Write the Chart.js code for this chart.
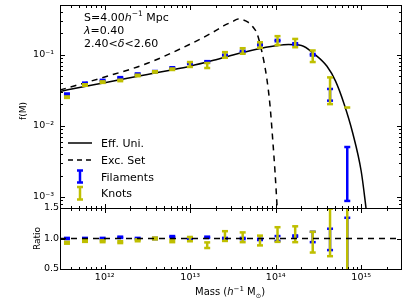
<!DOCTYPE html>
<html>
<head>
<meta charset="utf-8">
<script src="https://cdn.jsdelivr.net/npm/chart.js@4.4.1/dist/chart.umd.min.js"></script>
<style>
  html, body { margin: 0; padding: 0; background: #fff; }
  canvas { display: block; }
</style>
</head>
<body>
<canvas id="massChart" width="407" height="308"></canvas>
<script>
// mass of each measured bin (h^-1 Msun)
const binMass = [3.62e11, 5.88e11, 9.46e11, 1.52e12, 2.43e12, 3.87e12, 6.17e12, 9.93e12,
  1.58e13, 2.55e13, 4.11e13, 6.55e13, 1.05e14, 1.69e14, 2.71e14, 4.32e14, 6.87e14];

// f(M) in filaments and knots, with errors
const filF = [0.0278, 0.0396, 0.0433, 0.0473, 0.0533, 0.0577, 0.0651, 0.0757, 0.0794,
  0.0978, 0.111, 0.138, 0.158, 0.142, 0.100, 0.0278, 0.00296];
const filErr = [0.0007, 0.0009, 0.001, 0.0011, 0.0012, 0.0013, 0.0015, 0.0017, 0.0018,
  0.0022, 0.0025, 0.003, 0.0035, 0.0032, 0.0025, 0.0052, 0.00208];
const knotF = [0.0253, 0.0375, 0.0412, 0.0435, 0.0511, 0.0573, 0.0625, 0.0731, 0.0707,
  0.0998, 0.1133, 0.1373, 0.1596, 0.1471, 0.0968, 0.0341, 0.008];
const knotErr = [0.0006, 0.0009, 0.001, 0.001, 0.0012, 0.0013, 0.0015, 0.0058, 0.0057,
  0.0089, 0.0101, 0.0122, 0.0228, 0.0196, 0.0179, 0.0139, 0.0101];

// ratio to the effective universe prediction
const filRatio = [1.0, 1.0, 1.0, 1.02, 1.0, 1.0, 1.03, 1.0, 1.02, 1.0, 1.0, 0.985, 1.0, 1.04, 1.025, 0.985, 0.80];
const filRatioErr = [0.01, 0.01, 0.01, 0.01, 0.01, 0.01, 0.01, 0.01, 0.01, 0.01, 0.01, 0.01, 0.04, 0.01, 0.085, 0.175, 0.54];
const knotRatio = [0.93, 0.96, 0.955, 0.94, 0.97, 1.0, 0.96, 0.99, 0.89, 1.04, 1.02, 0.967, 1.065, 1.07, 0.94, 1.10, 1.0];
const knotRatioErr = [0.015, 0.015, 0.015, 0.015, 0.015, 0.015, 0.02, 0.035, 0.046, 0.08, 0.08, 0.08, 0.12, 0.13, 0.17, 0.39, 1.0];

// model curves
const effMass = [3.0e11, 5.62e11, 1.0e12, 1.78e12, 3.16e12, 5.62e12, 1.0e13, 1.78e13, 3.16e13, 5.62e13,
  1.0e14, 1.41e14, 2.0e14, 2.82e14, 3.98e14, 5.01e14, 6.31e14, 7.94e14, 1.0e15, 1.12e15, 1.2e15];
const effF = [0.0305, 0.0355, 0.0405, 0.0464, 0.0528, 0.0601, 0.069, 0.082, 0.0993, 0.1175,
  0.1334, 0.139, 0.135, 0.1026, 0.0687, 0.0425, 0.0203, 0.0080, 0.0023, 0.00082, 0.0004];
const excMass = [3.0e11, 1.0e12, 3.16e12, 1.0e13, 1.78e13, 2.51e13, 3.16e13, 3.63e13, 4.17e13, 4.79e13,
  5.43e13, 6.03e13, 6.82e13, 7.82e13, 8.57e13, 9.29e13, 9.82e13, 1.04e14, 1.08e14];
const excF = [0.0319, 0.0486, 0.0757, 0.141, 0.202, 0.258, 0.293, 0.318, 0.308, 0.284,
  0.245, 0.200, 0.1165, 0.0486, 0.0196, 0.00573, 0.00224, 0.000698, 0.0003];

const refMass = [3.0e11, 3.0e15];
const refRatio = [1, 1];

const BLUE = '#0000ff';
const YELLOW = '#bfbf00';
const FONT = '"DejaVu Sans"';

Chart.defaults.font.family = FONT;
Chart.defaults.color = '#000';

const SUP = {'0': '⁰', '1': '¹', '2': '²', '3': '³', '4': '⁴', '5': '⁵', '6': '⁶', '7': '⁷', '8': '⁸', '9': '⁹', '-': '⁻'};
function decadeLabel(v) {
    const e = Math.log10(v);
    if (Math.abs(e - Math.round(e)) > 1e-6) return '';
    return '10' + String(Math.round(e)).split('').map(c => SUP[c]).join('');
}

function pts(xs, ys) {
    return xs.map((x, i) => ({x: x, y: ys[i]}));
}

function logSteps(min, max) {
    const out = [];
    for (let e = Math.floor(Math.log10(min)); e <= Math.ceil(Math.log10(max)); e++) {
        for (let s = 1; s < 10; s++) {
            const v = s * Math.pow(10, e);
            if (v > min * 1.0001 && v < max * 0.9999) out.push([v, s === 1]);
        }
    }
    return out;
}

function errorBar(ctx, x, yHi, yLo, color) {
    ctx.fillStyle = color;
    ctx.strokeStyle = color;
    ctx.lineWidth = 2.5;
    if (yLo !== null) {
        ctx.beginPath();
        ctx.moveTo(x, yLo);
        ctx.lineTo(x, yHi);
        ctx.stroke();
        ctx.fillRect(x - 3, yLo - 1.25, 6, 2.5);
    }
    ctx.fillRect(x - 3, yHi - 1.25, 6, 2.5);
}

function richText(ctx, x, y, parts) {
    let cx = x;
    for (const [txt, size, style, dy] of parts) {
        ctx.font = (style || '') + ' ' + size + 'px ' + FONT;
        ctx.fillText(txt, cx, y + (dy || 0));
        cx += ctx.measureText(txt).width;
    }
}

function line(ctx, x1, y1, x2, y2) {
    ctx.beginPath();
    ctx.moveTo(x1, y1);
    ctx.lineTo(x2, y2);
    ctx.stroke();
}

const decor = {
    id: 'decor',
    afterDatasetDraw(chart, args) {
        const ds = chart.data.datasets[args.index];
        if (!ds.errors) return;
        const xs = chart.scales[args.meta.xAxisID];
        const ys = chart.scales[args.meta.yAxisID];
        const ctx = chart.ctx;
        ctx.save();
        ctx.beginPath();
        ctx.rect(xs.left, ys.top, xs.width, ys.height);
        ctx.clip();
        ds.data.forEach((p, i) => {
            const e = ds.errors[i];
            const px = xs.getPixelForValue(p.x);
            const hi = ys.getPixelForValue(p.y + e);
            const lo = (p.y - e > 0 || ys.type !== 'logarithmic') ? ys.getPixelForValue(p.y - e) : null;
            errorBar(ctx, px, hi, lo, ds.barColor);
        });
        ctx.restore();
    },
    afterDraw(chart) {
        const ctx = chart.ctx;
        const xs = chart.scales.x;
        ctx.save();
        ctx.strokeStyle = '#000';
        ctx.lineWidth = 1;
        const L = Math.round(xs.left) + 0.5, R = Math.round(xs.right) - 0.5;
        for (const id of ['y', 'ratio']) {
            const s = chart.scales[id];
            const T = Math.round(s.top) + 0.5, B = Math.round(s.bottom) + 0.5;
            ctx.strokeRect(L, T, R - L, B - T);
            logSteps(xs.min, xs.max).forEach(([v, major]) => {
                const px = Math.round(xs.getPixelForValue(v)) + 0.5;
                const len = major ? 4.5 : 2.5;
                line(ctx, px, T, px, T + len);
                line(ctx, px, B, px, B - len);
            });
            const steps = s.type === 'logarithmic' ? logSteps(s.min, s.max) : s.ticks.map(t => [t.value, true]);
            steps.forEach(([v, major]) => {
                const py = Math.round(s.getPixelForValue(v)) + 0.5;
                const len = major ? 4.5 : 2.5;
                line(ctx, L, py, L + len, py);
                line(ctx, R, py, R - len, py);
            });
        }

        // panel text
        ctx.fillStyle = '#000';
        ctx.textAlign = 'left';
        ctx.textBaseline = 'alphabetic';
        richText(ctx, 84, 20.5, [['S=4.00', 11], ['h', 11, 'italic'], ['−1', 7.5, '', -4.5], [' Mpc', 11]]);
        richText(ctx, 84, 34, [['λ', 11, 'italic'], ['=0.40', 11]]);
        richText(ctx, 84, 46.5, [['2.40<', 11], ['δ', 11, 'italic'], ['<2.60', 11]]);

        // legend
        ctx.strokeStyle = '#000';
        ctx.lineWidth = 1.5;
        line(ctx, 68, 143, 92, 143);
        ctx.setLineDash([5, 4]);
        line(ctx, 68, 160, 92, 160);
        ctx.setLineDash([]);
        errorBar(ctx, 80, 170.5, 182.5, BLUE);
        errorBar(ctx, 80, 187, 199.5, YELLOW);
        ctx.fillStyle = '#000';
        ctx.font = '11px ' + FONT;
        ctx.fillText('Eff. Uni.', 101, 147);
        ctx.fillText('Exc. Set', 101, 164);
        ctx.fillText('Filaments', 101, 180.5);
        ctx.fillText('Knots', 101, 196.5);

        // axis titles
        richText(ctx, 195, 295, [['Mass (', 10], ['h', 10, 'italic'], ['−1', 7, '', -4], [' M', 10], ['⊙', 6.5, '', 2.5], [')', 10]]);
        ctx.textAlign = 'center';
        ctx.textBaseline = 'middle';
        ctx.font = '9px ' + FONT;
        ctx.translate(23.5, 111);
        ctx.rotate(-Math.PI / 2);
        ctx.fillText('f(M)', 0, 0);
        ctx.setTransform(1, 0, 0, 1, 0, 0);
        ctx.translate(37.5, 238.5);
        ctx.rotate(-Math.PI / 2);
        ctx.fillText('Ratio', 0, 0);
        ctx.restore();
    }
};

function noPad(s) {
    s.paddingTop = 0;
    s.paddingBottom = 0;
    s.paddingLeft = 0;
    s.paddingRight = 0;
}

new Chart(document.getElementById('massChart'), {
    type: 'line',
    data: {
        datasets: [{
            label: 'Eff. Uni.',
            data: pts(effMass, effF),
            yAxisID: 'y',
            borderColor: '#000',
            borderWidth: 1.5,
            pointRadius: 0,
            cubicInterpolationMode: 'monotone',
            order: 6
        }, {
            label: 'Exc. Set',
            data: pts(excMass, excF),
            yAxisID: 'y',
            borderColor: '#000',
            borderWidth: 1.5,
            borderDash: [6, 5],
            pointRadius: 0,
            cubicInterpolationMode: 'monotone',
            order: 5
        }, {
            label: 'Filaments',
            data: pts(binMass, filF),
            errors: filErr,
            barColor: BLUE,
            yAxisID: 'y',
            showLine: false,
            pointRadius: 0,
            order: 4
        }, {
            label: 'Knots',
            data: pts(binMass, knotF),
            errors: knotErr,
            barColor: YELLOW,
            yAxisID: 'y',
            showLine: false,
            pointRadius: 0,
            order: 3
        }, {
            label: 'Filaments ratio',
            data: pts(binMass, filRatio),
            errors: filRatioErr,
            barColor: BLUE,
            yAxisID: 'ratio',
            showLine: false,
            pointRadius: 0,
            order: 4
        }, {
            label: 'Knots ratio',
            data: pts(binMass, knotRatio),
            errors: knotRatioErr,
            barColor: YELLOW,
            yAxisID: 'ratio',
            showLine: false,
            pointRadius: 0,
            order: 3
        }, {
            label: 'unity',
            data: pts(refMass, refRatio),
            yAxisID: 'ratio',
            borderColor: '#000',
            borderWidth: 1.5,
            borderDash: [6, 5],
            pointRadius: 0,
            order: 1
        }]
    },
    options: {
        responsive: false,
        animation: false,
        events: [],
        layout: {padding: {top: 5, right: 5, bottom: 0, left: 0}},
        plugins: {legend: {display: false}, tooltip: {enabled: false}},
        scales: {
            x: {
                type: 'logarithmic',
                min: 3e11,
                max: 3e15,
                position: 'bottom',
                grid: {display: false, drawTicks: false},
                border: {display: false},
                ticks: {autoSkip: false, maxRotation: 0, padding: 3, font: {size: 9.5}, callback: v => decadeLabel(v)},
                afterFit: s => { s.height = 39; noPad(s); }
            },
            ratio: {
                type: 'linear',
                position: 'left',
                stack: 'panels',
                stackWeight: 61,
                min: 0.5,
                max: 1.5,
                grid: {display: false, drawTicks: false},
                border: {display: false},
                ticks: {stepSize: 0.5, padding: 1, font: {size: 9.5}, callback: v => v.toFixed(1)},
                afterFit: s => { s.width = 60; noPad(s); }
            },
            y: {
                type: 'logarithmic',
                position: 'left',
                stack: 'panels',
                stackWeight: 203,
                min: 7e-4,
                max: 0.5,
                grid: {display: false, drawTicks: false},
                border: {display: false},
                ticks: {autoSkip: false, padding: 6, font: {size: 9.5}, callback: v => decadeLabel(v)},
                afterFit: s => { s.width = 60; noPad(s); }
            }
        }
    },
    plugins: [decor]
});
</script>
</body>
</html>
